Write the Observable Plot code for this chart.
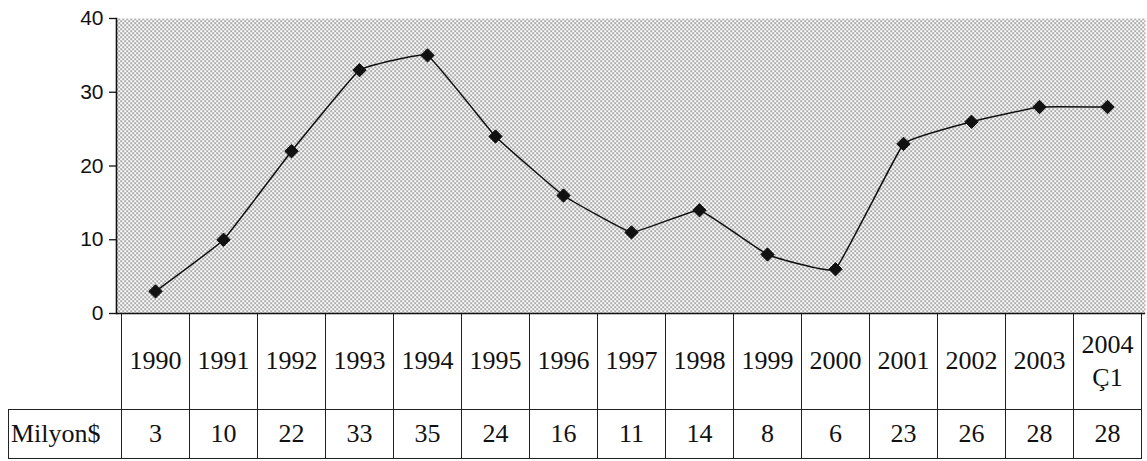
<!DOCTYPE html>
<html>
<head>
<meta charset="utf-8">
<script src="https://cdn.jsdelivr.net/npm/d3@7"></script>
<script src="https://cdn.jsdelivr.net/npm/@observablehq/plot@0.6"></script>
</head>
<body style="margin:0;padding:0;background:#fff">
<div id="wrap" style="position:relative;width:1147px"></div>
<script>
// Annual values, million US$ (2004: first quarter)
const years = ["1990", "1991", "1992", "1993", "1994", "1995", "1996", "1997",
               "1998", "1999", "2000", "2001", "2002", "2003", "2004 Ç1"];
const yearLabels = ["1990", "1991", "1992", "1993", "1994", "1995", "1996", "1997",
                    "1998", "1999", "2000", "2001", "2002", "2003", "2004<br>Ç1"];
const values = [3, 10, 22, 33, 35, 24, 16, 11, 14, 8, 6, 23, 26, 28, 28];
const yTicks = [0, 10, 20, 30, 40];
const rowLabel = "Milyon$";

const data = years.map((year, i) => ({year, value: values[i]}));

// Stippled plot background
const stipple = () => {
  const defs = d3.create("svg:defs");
  const p = defs.append("pattern")
    .attr("id", "stipple")
    .attr("patternUnits", "userSpaceOnUse")
    .attr("width", 4).attr("height", 4);
  p.append("rect").attr("width", 4).attr("height", 4).attr("fill", "#fff");
  p.append("rect").attr("x", 0).attr("y", 0).attr("width", 1.3).attr("height", 1.3).attr("fill", "#333");
  p.append("rect").attr("x", 2).attr("y", 2).attr("width", 1.3).attr("height", 1.3).attr("fill", "#333");
  return defs.node();
};

const chart = Plot.plot({
  width: 1147,
  height: 315,
  marginTop: 18,
  marginBottom: 2,
  marginLeft: 116,
  marginRight: 2,
  style: {background: "transparent", color: "#111", overflow: "visible", display: "block", position: "relative", zIndex: 1},
  x: {domain: years, type: "band", padding: 0, axis: null},
  y: {domain: [0, 40]},
  marks: [
    stipple,
    Plot.frame({fill: "url(#stipple)", stroke: "none"}),
    Plot.axisY({
      ticks: yTicks,
      label: null,
      tickSize: 7,
      tickPadding: 6,
      fontSize: 21,
      fontFamily: "'Liberation Sans', Arial, sans-serif",
      stroke: "#111",
      strokeWidth: 1.3
    }),
    Plot.frame({anchor: "left", stroke: "#111", strokeWidth: 1.6}),
    Plot.ruleY([0], {stroke: "#111", strokeWidth: 1.6}),
    Plot.line(data, {x: "year", y: "value", stroke: "#111", strokeWidth: 1.5, curve: d3.curveCardinal.tension(0.75)}),
    Plot.dot(data, {x: "year", y: "value", symbol: "diamond2", r: 6, fill: "#111", stroke: "#111", strokeWidth: 1})
  ]
});

const wrap = document.getElementById("wrap");
wrap.appendChild(chart);

// Data table aligned with the chart's x bands
const x = chart.scale("x");
const firstLeft = x.apply(years[0]);
const labelLeft = 8;
const line = "1px solid #222";
const serif = '"Liberation Serif", "Times New Roman", serif';

const table = d3.select(wrap).append("table")
  .style("position", "relative")
  .style("z-index", 0)
  .style("border-collapse", "collapse")
  .style("table-layout", "fixed")
  .style("margin-top", "-2px")
  .style("margin-left", labelLeft + "px")
  .style("width", (firstLeft - labelLeft + x.bandwidth * years.length) + "px");

const colgroup = table.append("colgroup");
colgroup.append("col").style("width", (firstLeft - labelLeft) + "px");
years.forEach(() => colgroup.append("col").style("width", x.bandwidth + "px"));

const cellStyle = td => td
  .style("padding", "0")
  .style("text-align", "center")
  .style("box-sizing", "border-box")
  .style("font-family", serif)
  .style("font-size", "26px")
  .style("color", "#111");

// Year row
const tr1 = table.append("tr");
cellStyle(tr1.append("td"))
  .style("height", "96px")
  .style("border-bottom", line)
  .style("border-right", line);
yearLabels.forEach(lbl => {
  cellStyle(tr1.append("td"))
    .style("height", "96px")
    .style("line-height", "33px")
    .style("border-left", line)
    .style("border-right", line)
    .style("border-bottom", line)
    .html(lbl);
});

// Value row
const tr2 = table.append("tr");
cellStyle(tr2.append("td"))
  .style("height", "49px")
  .style("border", line)
  .style("text-align", "left")
  .style("padding-left", "2px")
  .text(rowLabel);
values.forEach(v => {
  cellStyle(tr2.append("td"))
    .style("height", "49px")
    .style("border", line)
    .text(v);
});
</script>
</body>
</html>
